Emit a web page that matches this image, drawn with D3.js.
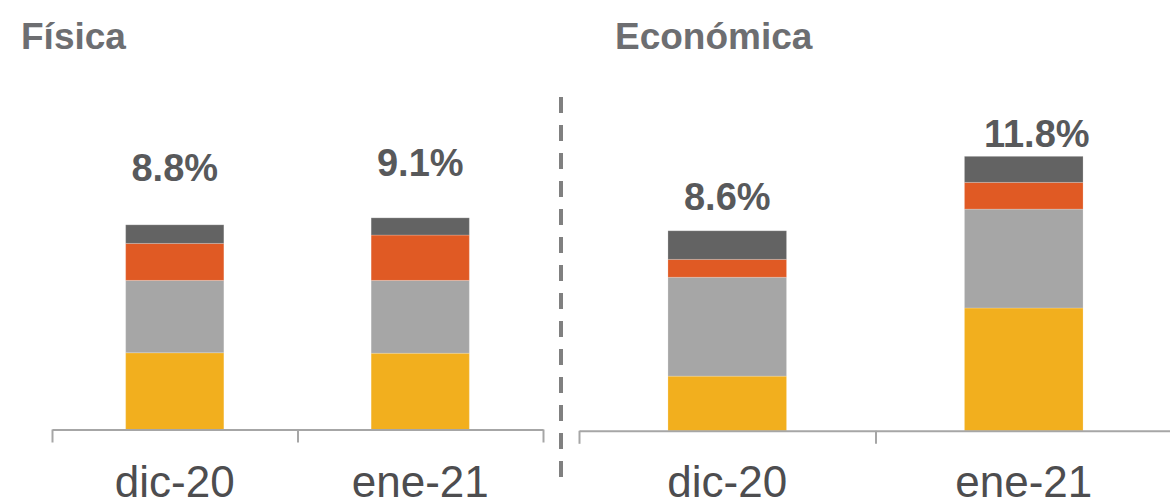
<!DOCTYPE html>
<html>
<head>
<meta charset="utf-8">
<script src="https://cdn.jsdelivr.net/npm/d3@7"></script>
<style>
  html, body { margin: 0; padding: 0; background: #ffffff; }
  svg { display: block; font-family: "Liberation Sans", Arial, sans-serif; }
</style>
</head>
<body>
<svg id="chart" width="1170" height="499"></svg>
<script>
// ---- data ----
const panels = ["Física", "Económica"];
const categories = ["dic-20", "ene-21"];
const seriesNames = ["s1", "s2", "s3", "s4"]; // bottom to top
// values per panel [category][series] (percent)
const fisicaValues = [
  [3.30, 3.11, 1.59, 0.80],
  [3.28, 3.13, 1.95, 0.74]
];
const economicaValues = [
  [2.35, 4.25, 0.77, 1.23],
  [5.28, 4.25, 1.15, 1.12]
];
const fisicaTotals = ["8.8%", "9.1%"];
const economicaTotals = ["8.6%", "11.8%"];

// ---- styling / layout ----
const colors = ["#F2AF1E", "#A6A6A6", "#E05A24", "#636363"];
const W = 1170, H = 499;
const svg = d3.select("#chart");

const layout = [
  { x0: 52, x1: 543, base: 429.5, titleX: 21, labelNudge: [[0, -43.5], [0, -41.5]] },
  { x0: 579, x1: 1172, base: 430.8, titleX: 615, labelNudge: [[0, -20.5], [13, -9]] }
];
const pxPerUnit = 23.26;
const data = [fisicaValues, economicaValues];
const totals = [fisicaTotals, economicaTotals];

panels.forEach((name, p) => {
  const L = layout[p];
  const g = svg.append("g");

  const x = d3.scaleBand().domain(categories).range([L.x0, L.x1]).padding(0);
  const y = d3.scaleLinear().domain([0, 12]).range([L.base, L.base - 12 * pxPerUnit]);
  const barW = x.bandwidth() * 0.4;

  // stacked bars
  const rows = categories.map((c, i) => {
    const o = { cat: c };
    seriesNames.forEach((s, j) => o[s] = data[p][i][j]);
    return o;
  });
  const stacked = d3.stack().keys(seriesNames)(rows);
  g.selectAll("g.series").data(stacked).join("g")
    .attr("fill", (d, j) => colors[j])
    .selectAll("rect").data(d => d).join("rect")
    .attr("x", d => x(d.data.cat) + x.bandwidth() / 2 - barW / 2)
    .attr("width", barW)
    .attr("y", d => y(d[1]))
    .attr("height", d => y(d[0]) - y(d[1]))
    .attr("stroke", "rgba(255,255,255,0.2)")
    .attr("stroke-width", 1);

  // axis (ticks at band edges)
  const xe = d3.scaleLinear().domain([0, categories.length]).range([L.x0, L.x1]);
  const axis = d3.axisBottom(xe).tickValues(d3.range(categories.length + 1))
    .tickSizeInner(13).tickSizeOuter(0).tickFormat("");
  const ag = g.append("g").attr("transform", `translate(0,${L.base})`).call(axis);
  ag.select(".domain").attr("stroke", "#A6A6A6").attr("stroke-width", 2);
  ag.selectAll(".tick line").attr("stroke", "#A6A6A6").attr("stroke-width", 2);

  // category labels
  g.selectAll("text.cat").data(categories).join("text")
    .attr("class", "cat")
    .attr("x", d => x(d) + x.bandwidth() / 2)
    .attr("y", 497)
    .attr("text-anchor", "middle")
    .attr("font-size", 44)
    .attr("fill", "#4D4D4F")
    .text(d => d);

  // total labels
  g.selectAll("text.tot").data(categories).join("text")
    .attr("class", "tot")
    .attr("x", (d, i) => x(d) + x.bandwidth() / 2 + L.labelNudge[i][0])
    .attr("y", (d, i) => y(d3.sum(data[p][i])) + L.labelNudge[i][1])
    .attr("text-anchor", "middle")
    .attr("font-size", 38)
    .attr("font-weight", "bold")
    .attr("fill", "#58595B")
    .text((d, i) => totals[p][i]);

  // panel title
  g.append("text")
    .attr("x", L.titleX).attr("y", 48.5)
    .attr("font-size", 37).attr("font-weight", "bold")
    .attr("fill", "#6D6E71")
    .text(name);
});

// dashed divider
svg.append("line")
  .attr("x1", 561).attr("x2", 561).attr("y1", 97).attr("y2", 478)
  .attr("stroke", "#808080").attr("stroke-width", 4)
  .attr("stroke-dasharray", "16,12");
</script>
</body>
</html>
